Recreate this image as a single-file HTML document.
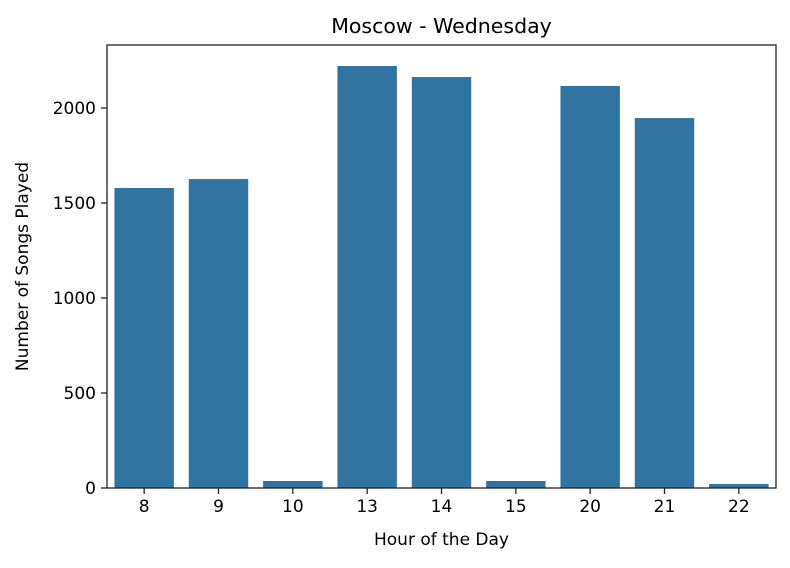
<!DOCTYPE html>
<html><head><meta charset="utf-8"><style>
body{margin:0;background:#fff;}
svg text{font-family:"DejaVu Sans","Liberation Sans",sans-serif;fill:#000;}
</style></head><body>
<svg id="chart" width="790" height="563" viewBox="0 0 790 563" xmlns="http://www.w3.org/2000/svg"></svg>
<script>
const categories = ["8","9","10","13","14","15","20","21","22"];
const values = [1579, 1626, 37, 2221, 2163, 37, 2116, 1947, 21];
const yTicks = [0, 500, 1000, 1500, 2000];

const L=107, R=776, T=45, B=488;
const NS="http://www.w3.org/2000/svg";
const svg=document.getElementById('chart');
const yScale=v=>B-v*0.19;
const band=(R-L)/categories.length;
const xScale=i=>L+band*(i+0.5);
function mk(tag,attrs,txt){const e=document.createElementNS(NS,tag);for(const k in attrs)e.setAttribute(k,attrs[k]);if(txt!==undefined)e.textContent=txt;svg.appendChild(e);return e;}

values.forEach((v,i)=>{
  const w=band*0.8;
  const r=mk('rect',{x:xScale(i)-w/2,y:yScale(v),width:w,height:B-yScale(v),fill:'#3274a1'});
  
  
});
categories.forEach((c,i)=>{
  const x=xScale(i);
  const t=mk('line',{x1:x,x2:x,y1:B,y2:B+6,stroke:'#222','stroke-width':1.3});
  
  
  const l=mk('text',{x:x,y:B+24,'text-anchor':'middle','font-size':'17'},c);
  
  
});
yTicks.forEach(v=>{
  const y=yScale(v);
  const t=mk('line',{x1:L-6,x2:L,y1:y,y2:y,stroke:'#222','stroke-width':1.3});
  
  
  const l=mk('text',{x:L-11,y:y+6,'text-anchor':'end','font-size':'17'},String(v));
  
  
});
const frame=mk('rect',{x:L,y:T,width:R-L,height:B-T,fill:'none',stroke:'#222','stroke-width':1.3});


const title=mk('text',{x:(L+R)/2,y:33,'text-anchor':'middle','font-size':'20.5'},'Moscow - Wednesday');


const xt=mk('text',{x:(L+R)/2,y:545,'text-anchor':'middle','font-size':'17'},'Hour of the Day');


const yt=mk('text',{x:28,y:(T+B)/2,'text-anchor':'middle','font-size':'17',transform:'rotate(-90 28 '+((T+B)/2)+')'},'Number of Songs Played');


</script>
</body></html>
